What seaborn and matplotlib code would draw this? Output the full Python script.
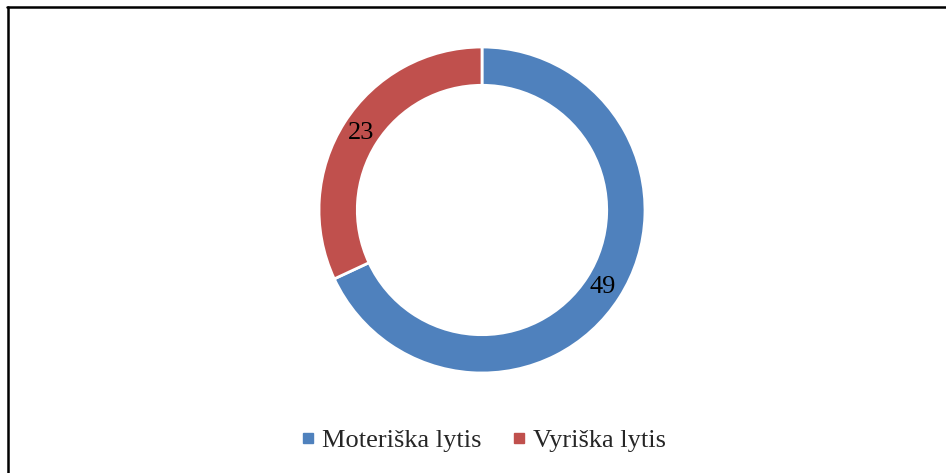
import matplotlib
matplotlib.use("Agg")
import matplotlib.pyplot as plt
import seaborn as sns
from matplotlib.lines import Line2D

# data
categories = ["Moteriška lytis", "Vyriška lytis"]
counts = [49, 23]
colors = ["#4F81BD", "#C0504D"]

sns.set_theme(style="white")
plt.rcParams["font.family"] = ["Liberation Serif", "DejaVu Serif"]

W, H = 946, 473
fig = plt.figure(figsize=(W / 100, H / 100), dpi=100)
fig.patch.set_facecolor("white")

# donut: centre ~(482, 210) px, outer radius ~163 px
cx, cy, r = 482, 210, 163
ax = fig.add_axes([(cx - r) / W, (H - cy - r) / H, 2 * r / W, 2 * r / H])

total = sum(counts)
wedges, _, autotexts = ax.pie(
    counts,
    colors=colors,
    startangle=90,
    counterclock=False,
    autopct=lambda p: f"{round(p * total / 100)}",
    pctdistance=0.88,
    wedgeprops=dict(width=0.235, edgecolor="white", linewidth=2),
    textprops=dict(fontsize=19, color="black"),
)
ax.set_xlim(-1, 1)
ax.set_ylim(-1, 1)
ax.set_aspect("equal")
ax.axis("off")

# legend at bottom
handles = [Line2D([], [], marker="s", linestyle="none", markersize=6.5,
                  markerfacecolor=c, markeredgecolor=c) for c in colors]
fig.legend(handles, categories, loc="center", bbox_to_anchor=(483 / W, 1 - 440 / H),
           ncol=2, frameon=False, fontsize=19, handlelength=0.6,
           handletextpad=0.2, columnspacing=1.15)

# chart frame (top and left edges visible)
fig.add_artist(Line2D([7 / W, 1], [1 - 7 / H, 1 - 7 / H], color="black", linewidth=1.8,
                      transform=fig.transFigure))
fig.add_artist(Line2D([7.5 / W, 7.5 / W], [0, 1 - 7 / H], color="black", linewidth=1.8,
                      transform=fig.transFigure))

fig.savefig("out.png", dpi=100)
